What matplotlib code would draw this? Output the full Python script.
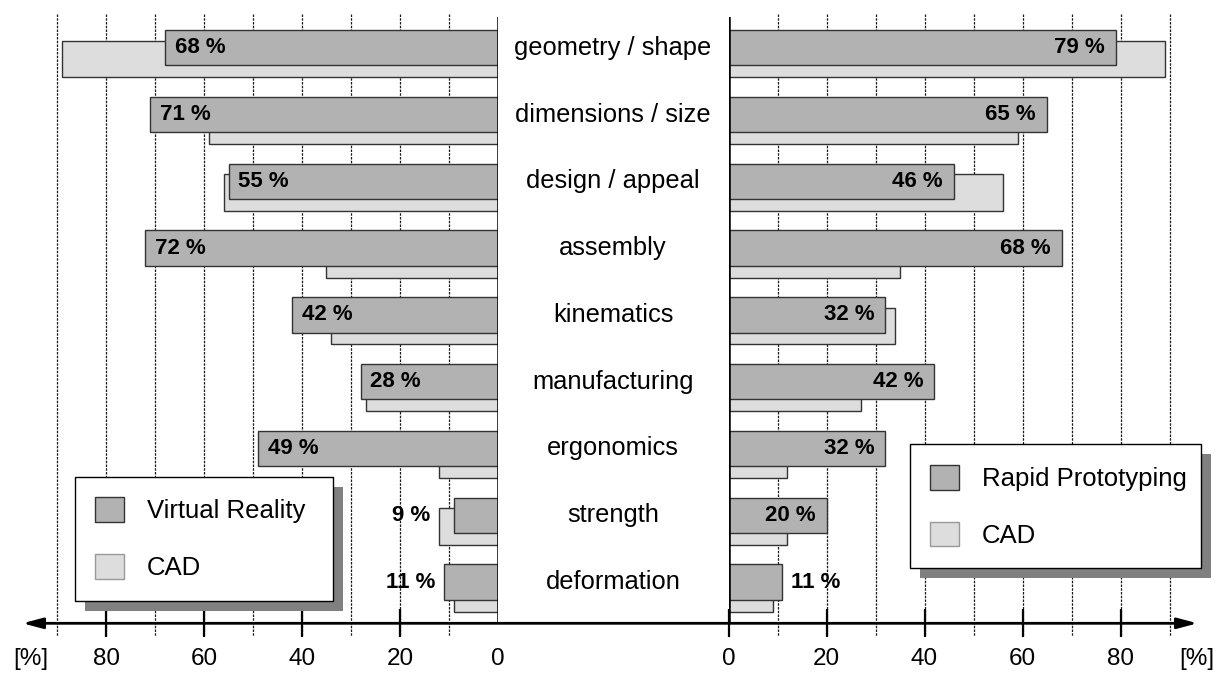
import numpy as np
import matplotlib.pyplot as plt
import matplotlib.transforms as mtransforms
from matplotlib.patches import Patch, Rectangle

plt.rcParams['font.family'] = ['Liberation Sans', 'DejaVu Sans']

categories = ["geometry / shape", "dimensions / size", "design / appeal", "assembly",
              "kinematics", "manufacturing", "ergonomics", "strength", "deformation"]
virtual_reality = [68, 71, 55, 72, 42, 28, 49, 9, 11]
rapid_prototyping = [79, 65, 46, 68, 32, 42, 32, 20, 11]
cad = [89, 59, 56, 35, 34, 27, 12, 12, 9]
major_ticks = [0, 20, 40, 60, 80]
grid_steps = [10, 20, 30, 40, 50, 60, 70, 80, 90]

DARK = '#b2b2b2'
LIGHT = '#dddddd'
EDGE = '#333333'

W, H = 1223, 673
fig = plt.figure(figsize=(W / 100, H / 100), dpi=100)

# two mirrored panels, the text column sits between them
ax_l = fig.add_axes([8.4 / W, 49.7 / H, 489.3 / W, 606.3 / H])
ax_r = fig.add_axes([728.5 / W, 49.7 / H, 490 / W, 606.3 / H])

bar_h = 0.53
cad_shift = 0.17
rows = np.arange(len(categories))


def draw_panel(ax, values, left):
    ax.set_facecolor('none')
    ax.vlines(grid_steps, -0.5, 8.81, colors='0.1', linestyles=(0, (2, 1)),
              lw=0.9, zorder=1, clip_on=False)
    ax.barh(rows + cad_shift, cad, height=bar_h + 0.015, color=LIGHT,
            edgecolor=EDGE, lw=1, zorder=2)
    ax.barh(rows, values, height=bar_h, color=DARK, edgecolor=EDGE, lw=1, zorder=3)
    ax.axvline(0, color='black', lw=1.8, zorder=4)

    for i, (v, c) in enumerate(zip(values, cad)):
        txt = f'{v} %'
        if left:
            if v >= 15:
                ax.annotate(txt, (v, i), xytext=(7, 0), textcoords='offset points',
                            ha='left', va='center', fontsize=16, fontweight='bold')
            else:
                ax.annotate(txt, (max(v, c), i), xytext=(-6, 0), textcoords='offset points',
                            ha='right', va='center', fontsize=16, fontweight='bold')
        else:
            if v >= 15:
                ax.annotate(txt, (v, i), xytext=(-8, 0), textcoords='offset points',
                            ha='right', va='center', fontsize=16, fontweight='bold')
            else:
                ax.annotate(txt, (v, i), xytext=(6.3, 0), textcoords='offset points',
                            ha='left', va='center', fontsize=16, fontweight='bold')

    if left:
        ax.set_xlim(100, 0)
    else:
        ax.set_xlim(0, 100)
    ax.set_ylim(8.617, -0.46)

    ax.set_xticks(major_ticks + [95.5], [str(t) for t in major_ticks] + ['[%]'])
    ax.tick_params(axis='x', direction='inout', length=20, width=1.6,
                   labelsize=17.5, pad=8)
    ax.set_yticks([])
    for s in ax.spines.values():
        s.set_visible(False)
    ticks = ax.xaxis.get_major_ticks()
    ticks[-1].tick1line.set_visible(False)
    if left:
        ticks[0].tick1line.set_visible(False)


draw_panel(ax_l, virtual_reality, True)
draw_panel(ax_r, rapid_prototyping, False)

# category names in the middle column
mid = mtransforms.blended_transform_factory(fig.transFigure, ax_l.transData)
for i, name in enumerate(categories):
    ax_l.text(613.1 / W, i, name, transform=mid, ha='center', va='center',
              fontsize=18.4, clip_on=False)

# shared horizontal axis with arrows at both ends
ax_r.annotate('', xy=(95.7, 0), xycoords=ax_r.get_xaxis_transform(),
              xytext=(97.1, 0), textcoords=ax_l.get_xaxis_transform(),
              arrowprops=dict(arrowstyle='<|-|>,head_length=1.2,head_width=0.32',
                              mutation_scale=10, lw=2, color='black',
                              shrinkA=0, shrinkB=0),
              annotation_clip=False, zorder=6)

leg_kw = dict(loc='upper left', bbox_transform=fig.transFigure, borderaxespad=0,
              mode='expand', fontsize=18.5, frameon=True, fancybox=False,
              edgecolor='black', framealpha=1, handlelength=1.1, handleheight=1.1,
              handletextpad=0.9, labelspacing=1.2, borderpad=0.8)
leg_l = ax_l.legend([Patch(facecolor=DARK, edgecolor=EDGE),
                     Patch(facecolor=LIGHT, edgecolor='#999999')],
                    ['Virtual Reality', 'CAD'],
                    bbox_to_anchor=(74.7 / W, 1 - 598.3 / H, 258.3 / W, 121.6 / H),
                    **leg_kw)
leg_r = ax_r.legend([Patch(facecolor=DARK, edgecolor=EDGE),
                     Patch(facecolor=LIGHT, edgecolor='#999999')],
                    ['Rapid Prototyping', 'CAD'],
                    bbox_to_anchor=(909.7 / W, 1 - 567 / H, 291.3 / W, 122.7 / H),
                    **leg_kw)

# drop shadows behind the legend boxes
fig.canvas.draw()
renderer = fig.canvas.get_renderer()
for ax, leg in ((ax_l, leg_l), (ax_r, leg_r)):
    leg.get_frame().set_linewidth(1.0)
    bb = leg.get_frame().get_window_extent(renderer).transformed(fig.transFigure.inverted())
    shadow = Rectangle((bb.x0 + 10 / W, bb.y0 - 10 / H), bb.width, bb.height,
                       transform=fig.transFigure, facecolor='#808080',
                       edgecolor='none', zorder=4.5, clip_on=False)
    ax.add_artist(shadow)

fig.savefig('out.png', dpi=100)
